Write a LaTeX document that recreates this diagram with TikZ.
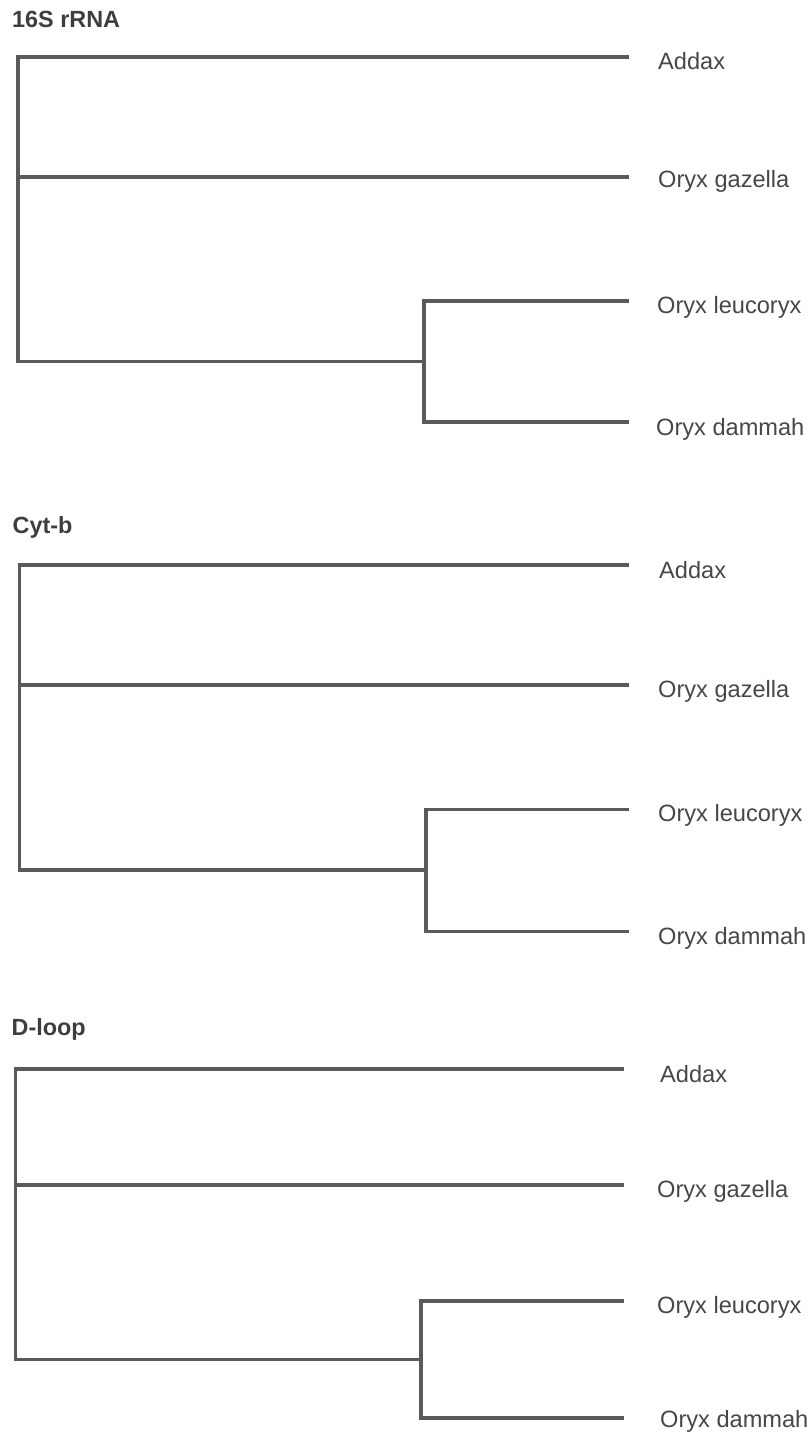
\documentclass[tikz,border=0pt]{standalone}
\usepackage{fontspec}
\setmainfont{Liberation Sans}
\definecolor{branch}{HTML}{5A5A5A}
\definecolor{labeltext}{HTML}{474747}
\definecolor{titletext}{HTML}{3E3E3E}
\begin{document}
\begin{tikzpicture}[x=1pt,y=-1pt,
  branchline/.style={draw=branch,line width=3.6pt,line join=miter},
  taxon/.style={anchor=base west,inner sep=0pt,text=labeltext,
    font=\fontsize{23.6}{28}\selectfont},
  genetitle/.style={anchor=base west,inner sep=0pt,text=titletext,
    font=\fontsize{23.4}{28}\selectfont\bfseries}]
\useasboundingbox[fill=white] (0,0) rectangle (810,1433);

% ---------- 16S rRNA ----------
\node[genetitle] (t1) at (12,27.5) {16S rRNA};
\coordinate (a1) at (629,57);
\coordinate (g1) at (629,177);
\coordinate (l1) at (629,301);
\coordinate (d1) at (629,422);
\coordinate (r1) at (18,209);
\coordinate (i1) at (424,361.5);
\draw[branchline] (a1) -| (r1) |- (i1);
\draw[branchline] (r1 |- g1) -- (g1);
\draw[branchline] (l1) -| (i1) |- (d1);
\node[taxon] (na1) at (658,69) {Addax};
\node[taxon] (ng1) at (658,187) {Oryx gazella};
\node[taxon] (nl1) at (657,313) {Oryx leucoryx};
\node[taxon] (nd1) at (656,435) {Oryx dammah};

% ---------- Cyt-b ----------
\node[genetitle] (t2) at (12.5,533) {Cyt-b};
\coordinate (a2) at (629,565);
\coordinate (g2) at (629,685);
\coordinate (l2) at (629,809.5);
\coordinate (d2) at (629,931.5);
\coordinate (r2) at (19.5,717);
\coordinate (i2) at (426,870);
\draw[branchline] (a2) -| (r2) |- (i2);
\draw[branchline] (r2 |- g2) -- (g2);
\draw[branchline] (l2) -| (i2) |- (d2);
\node[taxon] (na2) at (659,578) {Addax};
\node[taxon] (ng2) at (658,697) {Oryx gazella};
\node[taxon] (nl2) at (658,821) {Oryx leucoryx};
\node[taxon] (nd2) at (658,944) {Oryx dammah};

% ---------- D-loop ----------
\node[genetitle] (t3) at (11.5,1035) {D-loop};
\coordinate (a3) at (624,1069);
\coordinate (g3) at (624,1185);
\coordinate (l3) at (624,1301);
\coordinate (d3) at (624,1418);
\coordinate (r3) at (15.5,1214);
\coordinate (i3) at (421,1359.5);
\draw[branchline] (a3) -| (r3) |- (i3);
\draw[branchline] (r3 |- g3) -- (g3);
\draw[branchline] (l3) -| (i3) |- (d3);
\node[taxon] (na3) at (660,1082) {Addax};
\node[taxon] (ng3) at (657,1197) {Oryx gazella};
\node[taxon] (nl3) at (657,1313) {Oryx leucoryx};
\node[taxon] (nd3) at (660,1427) {Oryx dammah};
\end{tikzpicture}
\end{document}
